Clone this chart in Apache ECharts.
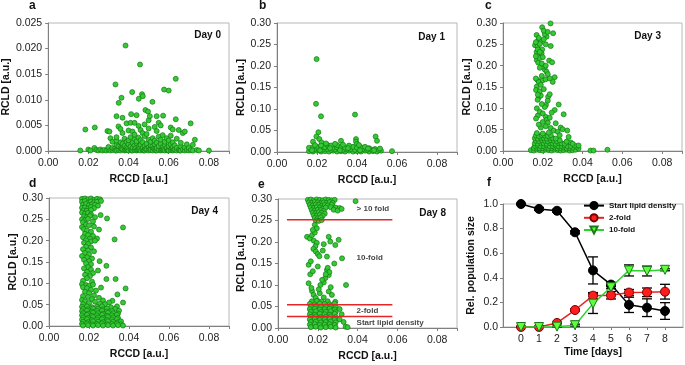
<!DOCTYPE html>
<html>
<head>
<meta charset="utf-8">
<script src="https://cdn.jsdelivr.net/npm/echarts@6/dist/echarts.min.js"></script>
<style>
  html, body { margin: 0; padding: 0; background: #fff; }
  #chart { width: 685px; height: 365px; }
</style>
</head>
<body>
<div id="chart"></div>
<script>
// ---- scatter data: [RCCD, RCLD] ----
const day0Points = [
  [0.016,0.0001],[0.0185,0.0042],[0.020,0.0003],[0.021,0.0001],[0.023,0.0006],[0.0232,0.0046],[0.024,0.0002],[0.025,0.0001],
  [0.026,0.0003],[0.027,0.0001],[0.028,0.0002],[0.029,0.0001],[0.0295,0.0039],[0.030,0.0003],[0.030,0.0008],[0.0305,0.0038],
  [0.031,0.0001],[0.031,0.0025],[0.032,0.0002],[0.032,0.0006],[0.032,0.0018],[0.033,0.0004],[0.0335,0.0001],[0.0335,0.0130],
  [0.034,0.0001],[0.034,0.0012],[0.034,0.0020],[0.034,0.0027],[0.034,0.0068],[0.035,0.0002],[0.035,0.0009],[0.035,0.0048],
  [0.0351,0.0094],[0.036,0.0001],[0.036,0.0006],[0.036,0.0017],[0.036,0.0043],[0.0365,0.0004],[0.0365,0.0104],[0.037,0.0003],
  [0.037,0.0014],[0.037,0.0035],[0.037,0.0065],[0.038,0.0001],[0.038,0.0010],[0.038,0.0024],[0.0385,0.0002],[0.0385,0.0206],
  [0.039,0.0002],[0.039,0.0007],[0.039,0.0018],[0.039,0.0054],[0.0395,0.0004],[0.040,0.0001],[0.040,0.0013],[0.040,0.0021],
  [0.040,0.0040],[0.041,0.0003],[0.041,0.0009],[0.041,0.0027],[0.041,0.0055],[0.0413,0.0072],[0.0415,0.0001],[0.0418,0.0115],
  [0.042,0.0001],[0.042,0.0006],[0.042,0.0016],[0.042,0.0038],[0.043,0.0002],[0.043,0.0011],[0.043,0.0023],[0.043,0.0032],
  [0.043,0.0055],[0.0435,0.0005],[0.044,0.0001],[0.044,0.0015],[0.044,0.0019],[0.044,0.0070],[0.0445,0.0002],[0.045,0.0003],
  [0.045,0.0008],[0.045,0.0026],[0.045,0.0049],[0.0451,0.0102],[0.0455,0.0005],[0.0457,0.0169],[0.046,0.0001],[0.046,0.0012],
  [0.046,0.0021],[0.046,0.0041],[0.0467,0.0111],[0.047,0.0002],[0.047,0.0006],[0.047,0.0017],[0.047,0.0035],[0.0471,0.0107],
  [0.0475,0.0001],[0.048,0.0001],[0.048,0.0010],[0.048,0.0029],[0.048,0.0052],[0.0484,0.0080],[0.0485,0.0004],[0.049,0.0003],
  [0.049,0.0014],[0.049,0.0033],[0.0497,0.0077],[0.050,0.0001],[0.050,0.0007],[0.050,0.0022],[0.050,0.0044],[0.050,0.0060],
  [0.0505,0.0003],[0.051,0.0002],[0.051,0.0011],[0.051,0.0018],[0.0506,0.0068],[0.0519,0.0096],[0.052,0.0001],[0.052,0.0009],
  [0.052,0.0025],[0.0525,0.0005],[0.053,0.0003],[0.053,0.0013],[0.053,0.0020],[0.053,0.0047],[0.0535,0.0001],[0.054,0.0001],
  [0.054,0.0006],[0.054,0.0016],[0.054,0.0039],[0.054,0.0068],[0.055,0.0002],[0.055,0.0010],[0.055,0.0028],[0.055,0.0055],
  [0.056,0.0001],[0.056,0.0014],[0.056,0.0022],[0.056,0.0050],[0.0565,0.0002],[0.057,0.0003],[0.057,0.0008],[0.057,0.0031],
  [0.0572,0.0069],[0.0575,0.0004],[0.0577,0.0120],[0.058,0.0001],[0.058,0.0012],[0.058,0.0018],[0.059,0.0002],[0.059,0.0006],
  [0.059,0.0025],[0.0595,0.0001],[0.060,0.0001],[0.060,0.0010],[0.060,0.0021],[0.060,0.0118],[0.061,0.0002],[0.061,0.0013],
  [0.061,0.0030],[0.061,0.0046],[0.0615,0.0005],[0.062,0.0001],[0.062,0.0008],[0.062,0.0017],[0.062,0.0042],[0.0625,0.0002],
  [0.063,0.0003],[0.063,0.0011],[0.0635,0.0062],[0.0635,0.0141],[0.064,0.0001],[0.064,0.0006],[0.064,0.0024],[0.065,0.0002],
  [0.065,0.0041],[0.0655,0.0001],[0.066,0.0001],[0.066,0.0009],[0.066,0.0016],[0.067,0.0003],[0.067,0.0035],[0.068,0.0001],
  [0.068,0.0007],[0.068,0.0038],[0.069,0.0002],[0.069,0.0013],[0.070,0.0001],[0.070,0.0006],[0.0709,0.0054],[0.071,0.0002],
  [0.072,0.0001],[0.072,0.0012],[0.073,0.0022],[0.074,0.0002],[0.075,0.0001],[0.080,0.0001]
]

const day1Points = [
  [0.0198,0.216],[0.0195,0.112],[0.022,0.083],[0.039,0.087],[0.0207,0.046],[0.0197,0.036],[0.0212,0.030],[0.0223,0.022],
  [0.018,0.024],[0.0493,0.036],[0.050,0.026],[0.0395,0.030],[0.0395,0.024],[0.040,0.019],[0.032,0.026],[0.0575,0.002],
  [0.016,0.002],[0.018,0.001],[0.020,0.003],[0.022,0.001],[0.024,0.002],[0.026,0.001],[0.028,0.003],[0.030,0.001],
  [0.032,0.002],[0.034,0.001],[0.036,0.003],[0.038,0.001],[0.040,0.002],[0.042,0.001],[0.044,0.003],[0.046,0.001],
  [0.048,0.002],[0.050,0.001],[0.052,0.003],
  [0.017,0.006],[0.019,0.007],[0.021,0.005],[0.023,0.006],[0.025,0.007],[0.027,0.005],[0.029,0.006],[0.031,0.007],
  [0.033,0.005],[0.035,0.006],[0.037,0.007],[0.039,0.005],[0.041,0.006],[0.043,0.007],[0.045,0.005],[0.047,0.006],
  [0.049,0.007],[0.051,0.005],
  [0.016,0.010],[0.018,0.011],[0.020,0.012],[0.022,0.010],[0.024,0.011],[0.026,0.012],[0.028,0.010],[0.030,0.011],
  [0.032,0.012],[0.034,0.010],[0.036,0.011],[0.038,0.012],[0.040,0.010],[0.042,0.011],[0.044,0.012],[0.046,0.009],
  [0.019,0.016],[0.022,0.015],[0.025,0.017],[0.027,0.015],[0.030,0.016],[0.033,0.017],[0.036,0.015],[0.041,0.016],
  [0.0245,0.020],[0.029,0.019],
  [0.0175,0.004],[0.0215,0.004],[0.0265,0.009],[0.0315,0.004],[0.0355,0.009],[0.0415,0.004],[0.0455,0.008],[0.0485,0.004],
  [0.0515,0.008]
]

const day3Points = [
  [0.0239,0.299],[0.0197,0.290],[0.0219,0.268],[0.021,0.274],[0.0252,0.276],[0.0169,0.272],[0.0177,0.259],[0.019,0.256],
  [0.0161,0.248],[0.0174,0.245],[0.0185,0.251],[0.0197,0.238],[0.0169,0.232],[0.024,0.246],[0.018,0.225],[0.0194,0.229],
  [0.0232,0.212],[0.0247,0.208],[0.017,0.213],[0.0177,0.207],[0.0185,0.218],[0.021,0.191],[0.0219,0.186],[0.020,0.198],
  [0.0174,0.166],[0.018,0.162],[0.020,0.166],[0.0214,0.168],[0.026,0.173],[0.025,0.162],[0.017,0.151],[0.0166,0.143],
  [0.019,0.155],[0.018,0.126],[0.0174,0.120],[0.0227,0.127],[0.0235,0.133],[0.019,0.130],[0.0216,0.108],[0.021,0.103],
  [0.028,0.109],[0.017,0.100],[0.026,0.096],[0.0305,0.086],[0.0175,0.083],[0.0166,0.076],[0.0215,0.080],[0.022,0.073],
  [0.0225,0.066],[0.019,0.055],[0.024,0.054],[0.029,0.055],[0.030,0.051],[0.0323,0.048],[0.018,0.062],[0.020,0.068],
  [0.0205,0.282],[0.0225,0.279],[0.018,0.265],[0.0205,0.262],[0.0165,0.255],[0.0215,0.250],[0.0175,0.238],[0.0185,0.232],
  [0.0165,0.222],[0.020,0.220],[0.0195,0.205],[0.0215,0.200],[0.0185,0.195],[0.0225,0.180],[0.0195,0.176],[0.0165,0.170],
  [0.0235,0.170],[0.0185,0.140],[0.0205,0.145],[0.0175,0.132],[0.0225,0.118],[0.0195,0.110],[0.0185,0.092],[0.0245,0.090],
  [0.020,0.088],[0.0235,0.078],[0.0265,0.065],[0.0215,0.058],[0.0255,0.048],[0.0275,0.045],
  [0.014,0.002],[0.0155,0.001],[0.017,0.003],[0.0185,0.002],[0.020,0.001],[0.0215,0.003],[0.023,0.002],[0.0245,0.001],
  [0.026,0.003],[0.0275,0.002],[0.029,0.001],[0.0305,0.002],[0.032,0.003],[0.0335,0.001],[0.035,0.002],[0.0365,0.003],
  [0.038,0.006],
  [0.0155,0.007],[0.017,0.008],[0.0185,0.006],[0.020,0.007],[0.0215,0.008],[0.023,0.006],[0.0245,0.007],[0.026,0.008],
  [0.0275,0.006],[0.029,0.007],[0.0305,0.008],[0.032,0.006],[0.0335,0.007],[0.035,0.008],[0.037,0.010],
  [0.016,0.012],[0.0175,0.013],[0.019,0.011],[0.0205,0.012],[0.022,0.013],[0.0235,0.011],[0.025,0.012],[0.0265,0.013],
  [0.028,0.011],[0.0295,0.012],[0.031,0.013],[0.0325,0.011],[0.034,0.012],[0.036,0.013],[0.038,0.013],
  [0.016,0.018],[0.0175,0.017],[0.019,0.019],[0.0205,0.018],[0.022,0.017],[0.0235,0.019],[0.025,0.018],[0.0265,0.017],
  [0.028,0.019],[0.0295,0.018],[0.031,0.017],[0.034,0.020],[0.035,0.017],
  [0.0165,0.024],[0.018,0.023],[0.0195,0.025],[0.021,0.024],[0.0225,0.023],[0.024,0.025],[0.0255,0.024],[0.027,0.023],
  [0.0285,0.025],[0.032,0.022],
  [0.016,0.030],[0.0175,0.029],[0.019,0.031],[0.0205,0.030],[0.022,0.029],[0.0235,0.031],[0.025,0.030],[0.0265,0.029],
  [0.033,0.033],
  [0.0165,0.036],[0.018,0.035],[0.0195,0.037],[0.021,0.036],[0.0225,0.035],[0.024,0.037],[0.0285,0.037],
  [0.017,0.042],[0.020,0.041],[0.023,0.043],
  [0.044,0.001],[0.0455,0.001],[0.0525,0.003]
]

const day4Points = [
  [0.0165,0.298],[0.018,0.299],[0.0195,0.297],[0.021,0.299],[0.0225,0.296],[0.024,0.298],[0.0255,0.297],[0.0165,0.291],
  [0.018,0.293],[0.0195,0.289],[0.021,0.292],[0.0225,0.290],[0.024,0.291],[0.026,0.293],[0.017,0.284],[0.0185,0.286],
  [0.020,0.283],[0.0215,0.285],[0.023,0.284],[0.0245,0.282],[0.0165,0.277],[0.018,0.278],[0.0195,0.275],[0.021,0.279],
  [0.0225,0.276],[0.017,0.271],[0.019,0.270],[0.021,0.272],
  [0.0165,0.266],[0.018,0.263],[0.0195,0.265],[0.021,0.262],[0.0175,0.257],[0.019,0.255],[0.0205,0.258],[0.023,0.255],
  [0.0165,0.250],[0.018,0.248],[0.0195,0.251],[0.022,0.245],[0.017,0.243],[0.0258,0.260],[0.029,0.252],
  [0.0185,0.238],[0.020,0.236],[0.0165,0.232],[0.0225,0.233],[0.025,0.226],[0.0175,0.227],[0.019,0.224],[0.021,0.221],
  [0.018,0.216],[0.0195,0.213],[0.022,0.211],[0.017,0.208],[0.0205,0.205],[0.024,0.205],[0.0185,0.201],[0.021,0.198],
  [0.023,0.200],[0.0175,0.195],[0.0195,0.192],[0.037,0.231],[0.0328,0.203],
  [0.0185,0.186],[0.021,0.184],[0.017,0.180],[0.0195,0.177],[0.0225,0.175],[0.018,0.171],[0.020,0.168],[0.0165,0.164],
  [0.019,0.161],[0.0215,0.158],[0.0175,0.155],[0.020,0.152],[0.0253,0.152],[0.0185,0.147],[0.021,0.145],[0.0287,0.141],
  [0.0195,0.138],[0.0175,0.135],[0.021,0.132],[0.0245,0.130],[0.019,0.127],[0.022,0.124],[0.018,0.120],[0.0205,0.117],
  [0.019,0.112],[0.0287,0.110],[0.0333,0.110],[0.017,0.106],[0.0215,0.104],
  [0.0165,0.098],[0.0185,0.096],[0.020,0.094],[0.022,0.097],[0.017,0.091],[0.019,0.089],[0.026,0.090],[0.0383,0.088],
  [0.021,0.085],[0.0235,0.083],[0.018,0.080],[0.020,0.077],[0.0342,0.074],[0.0225,0.072],[0.017,0.070],[0.0195,0.068],
  [0.025,0.066],[0.0215,0.063],[0.0165,0.061],[0.018,0.058],[0.0317,0.059],[0.023,0.057],[0.027,0.060],[0.030,0.055],
  [0.037,0.055],[0.020,0.054],[0.0255,0.052],[0.017,0.051],[0.028,0.051],
  [0.0165,0.045],[0.019,0.046],[0.0215,0.044],[0.024,0.045],[0.0265,0.046],[0.031,0.044],[0.034,0.046],
  [0.017,0.040],[0.0195,0.039],[0.022,0.041],[0.0245,0.040],[0.027,0.039],[0.029,0.041],[0.033,0.040],
  [0.0165,0.035],[0.019,0.036],[0.0215,0.034],[0.024,0.035],[0.0265,0.036],[0.029,0.034],[0.0315,0.035],[0.035,0.036],
  [0.017,0.030],[0.0195,0.029],[0.022,0.031],[0.0245,0.030],[0.027,0.029],[0.0295,0.031],[0.032,0.030],[0.0345,0.029],
  [0.0165,0.025],[0.019,0.026],[0.0215,0.024],[0.024,0.025],[0.0265,0.026],[0.029,0.024],[0.0315,0.025],[0.034,0.026],
  [0.017,0.020],[0.0195,0.019],[0.022,0.021],[0.0245,0.020],[0.027,0.019],[0.0295,0.021],[0.032,0.020],[0.0345,0.019],
  [0.0165,0.015],[0.019,0.016],[0.0215,0.014],[0.024,0.015],[0.0265,0.016],[0.029,0.014],[0.0315,0.015],[0.034,0.016],
  [0.017,0.010],[0.0195,0.009],[0.022,0.011],[0.0245,0.010],[0.027,0.009],[0.0295,0.011],[0.032,0.010],[0.0345,0.009],
  [0.036,0.011],
  [0.0165,0.005],[0.019,0.006],[0.0215,0.004],[0.024,0.005],[0.0265,0.006],[0.029,0.004],[0.0315,0.005],[0.034,0.006],
  [0.036,0.004],
  [0.017,0.001],[0.0195,0.002],[0.022,0.001],[0.0245,0.002],[0.027,0.001],[0.0295,0.002],[0.032,0.001],[0.0345,0.002],
  [0.037,0.001]
]

const day8Points = [
  [0.015,0.298],[0.0165,0.299],[0.018,0.297],[0.0195,0.299],[0.021,0.298],[0.0225,0.297],[0.024,0.299],[0.0255,0.298],
  [0.027,0.297],[0.0285,0.298],
  [0.0155,0.292],[0.017,0.291],[0.0185,0.293],[0.020,0.292],[0.0215,0.290],[0.023,0.292],[0.0245,0.291],[0.026,0.293],
  [0.0275,0.291],
  [0.016,0.286],[0.0175,0.285],[0.019,0.287],[0.0205,0.286],[0.022,0.284],[0.0235,0.286],[0.025,0.285],[0.027,0.287],
  [0.0165,0.280],[0.018,0.279],[0.0195,0.281],[0.021,0.280],[0.0225,0.278],[0.024,0.280],[0.0265,0.281],[0.029,0.280],
  [0.031,0.279],
  [0.017,0.274],[0.0185,0.273],[0.020,0.275],[0.0215,0.274],[0.023,0.272],[0.028,0.275],[0.030,0.273],
  [0.0175,0.268],[0.019,0.267],[0.0205,0.269],[0.022,0.268],[0.0235,0.266],
  [0.018,0.262],[0.0195,0.261],[0.021,0.263],[0.0225,0.261],
  [0.0185,0.256],[0.020,0.255],[0.0215,0.257],
  [0.019,0.250],[0.0205,0.249],[0.022,0.251],
  [0.039,0.295],[0.032,0.277],
  [0.0146,0.212],[0.0160,0.208],[0.0171,0.216],[0.0185,0.222],[0.0180,0.203],[0.0195,0.198],[0.0188,0.190],[0.0178,0.184],
  [0.0190,0.178],[0.0200,0.172],[0.0208,0.167],[0.0255,0.212],[0.0263,0.201],[0.0288,0.193],[0.0322,0.162],[0.0283,0.150],
  [0.0246,0.166],[0.0154,0.147],[0.0165,0.155],[0.0200,0.143],[0.0162,0.125],[0.0154,0.104],[0.0246,0.135],[0.0255,0.123],
  [0.0238,0.116],[0.0230,0.106],[0.0213,0.100],[0.0342,0.100],[0.0171,0.086],[0.0179,0.077],[0.0210,0.081],[0.0255,0.085],
  [0.0271,0.077],[0.0288,0.061],[0.0240,0.057],[0.0250,0.140],[0.0258,0.130],[0.0240,0.125],[0.0222,0.112],[0.0175,0.132],
  [0.0168,0.093],[0.0190,0.070],[0.0200,0.063],[0.0230,0.071],[0.0265,0.095],[0.0205,0.090],[0.0185,0.240],[0.0195,0.232],
  [0.0175,0.228],[0.0305,0.205],[0.0225,0.180],[0.0230,0.195],
  [0.017,0.062],[0.0195,0.063],[0.022,0.061],[0.025,0.062],
  [0.016,0.056],[0.0185,0.055],[0.021,0.057],[0.0235,0.056],[0.026,0.055],[0.0285,0.057],
  [0.0165,0.050],[0.019,0.051],[0.0215,0.049],[0.024,0.050],[0.0265,0.051],[0.029,0.049],
  [0.016,0.044],[0.0185,0.045],[0.021,0.043],[0.0235,0.044],[0.026,0.045],[0.0285,0.043],[0.031,0.044],
  [0.0165,0.038],[0.019,0.039],[0.0215,0.037],[0.024,0.038],[0.0265,0.039],[0.029,0.037],
  [0.016,0.032],[0.0185,0.031],[0.021,0.033],[0.0235,0.032],[0.026,0.031],[0.0285,0.033],[0.032,0.032],
  [0.0165,0.026],[0.019,0.027],[0.0215,0.025],[0.024,0.026],[0.0265,0.027],[0.029,0.025],
  [0.016,0.020],[0.0185,0.021],[0.021,0.019],[0.0235,0.020],[0.026,0.021],[0.0285,0.019],[0.031,0.020],
  [0.0165,0.014],[0.019,0.015],[0.0215,0.013],[0.024,0.014],[0.0265,0.015],[0.029,0.013],[0.033,0.014],
  [0.016,0.008],[0.0185,0.009],[0.021,0.007],[0.0235,0.008],[0.026,0.009],[0.0285,0.007],
  [0.0165,0.002],[0.019,0.003],[0.0215,0.001],[0.024,0.002],[0.0265,0.003],[0.029,0.001],[0.034,0.003],[0.035,0.002]
]

// ---- day 8 thresholds ----
const foldLevels = [0.027, 0.054, 0.252]
const foldLineX = [0.0045, 0.0575]
const foldLabels = ['> 10 fold', '10-fold', '2-fold', 'Start lipid density']
const foldLabelY = [0.277, 0.163, 0.039, 0.013]
const foldLabelX = 0.0395

// ---- panel f: population sizes ----
const days = [0, 1, 2, 3, 4, 5, 6, 7, 8]
const startMean = [1.0, 0.96, 0.945, 0.77, 0.46, 0.345, 0.18, 0.157, 0.13]
const startErr = [0.005, 0.012, 0.012, 0.012, 0.11, 0.018, 0.062, 0.072, 0.068]
const twoMean = [0, 0, 0.033, 0.138, 0.255, 0.258, 0.28, 0.282, 0.287]
const twoErr = [0, 0, 0.005, 0.008, 0.025, 0.03, 0.025, 0.035, 0.06]
const tenMean = [0, 0, 0.003, 0.015, 0.19, 0.323, 0.46, 0.455, 0.465]
const tenErr = [0, 0, 0.003, 0.008, 0.08, 0.012, 0.045, 0.04, 0.008]

const font = 'Liberation Sans, Arial, sans-serif'

const scatterPanels = [
  { grid: { left: 48, top: 23, width: 181, height: 128 }, data: day0Points, yMax: 0.025, yStep: 0.005, dec: 3, yGap: 35, day: 'Day 0', dayPos: { right: 464, top: 30 } },
  { grid: { left: 277, top: 23, width: 180, height: 129 }, data: day1Points, yMax: 0.3, yStep: 0.05, dec: 2, yGap: 30, day: 'Day 1', dayPos: { right: 240, top: 32 } },
  { grid: { left: 503, top: 23, width: 180, height: 128 }, data: day3Points, yMax: 0.3, yStep: 0.05, dec: 2, yGap: 29, day: 'Day 3', dayPos: { right: 24, top: 31 } },
  { grid: { left: 49, top: 198, width: 180, height: 128 }, data: day4Points, yMax: 0.3, yStep: 0.05, dec: 2, yGap: 30, day: 'Day 4', dayPos: { right: 467, top: 206 } },
  { grid: { left: 278, top: 199, width: 179, height: 129 }, data: day8Points, yMax: 0.3, yStep: 0.05, dec: 2, yGap: 31, day: 'Day 8', dayPos: { right: 239, top: 208 } }
]

const letters = [
  { text: 'a', left: 29, top: 0 }, { text: 'b', left: 259, top: 0 }, { text: 'c', left: 485, top: 0 },
  { text: 'd', left: 29, top: 178 }, { text: 'e', left: 258, top: 179 }, { text: 'f', left: 487, top: 177 }
]

const axisLineStyle = { color: '#808080', width: 1 }
const labelStyle = { fontFamily: font, fontSize: 10.5, color: '#222' }
const nameStyle = { fontFamily: font, fontSize: 10.5, fontWeight: 'bold', color: '#111' }

const grids = []
const xAxes = []
const yAxes = []
const series = []
const titles = []

letters.forEach(l => titles.push({
  text: l.text, left: l.left, top: l.top, padding: 0,
  textStyle: { fontFamily: font, fontSize: 12, fontWeight: 'bold', color: '#111' }
}))

scatterPanels.forEach((p, i) => {
  grids.push(Object.assign({ show: true, borderColor: '#b8b8b8', borderWidth: 1, backgroundColor: 'transparent' }, p.grid))
  xAxes.push({
    type: 'value', gridIndex: i, min: 0, max: 0.09, interval: 0.02,
    name: 'RCCD [a.u.]', nameLocation: 'middle', nameGap: 23, nameTextStyle: nameStyle,
    axisLine: { show: true, onZero: false, lineStyle: axisLineStyle },
    axisTick: { show: true, length: 3, lineStyle: axisLineStyle },
    axisLabel: Object.assign({ margin: 7, formatter: v => v > 0.085 ? '' : v.toFixed(2) }, labelStyle),
    splitLine: { show: false }
  })
  yAxes.push({
    type: 'value', gridIndex: i, min: 0, max: p.yMax, interval: p.yStep,
    name: 'RCLD [a.u.]', nameLocation: 'middle', nameGap: p.yGap, nameTextStyle: nameStyle,
    axisLine: { show: true, onZero: false, lineStyle: axisLineStyle },
    axisTick: { show: true, length: 3, lineStyle: axisLineStyle },
    axisLabel: Object.assign({ margin: 6, formatter: v => v.toFixed(p.dec) }, labelStyle),
    splitLine: { show: false }
  })
  series.push({
    type: 'scatter', xAxisIndex: i, yAxisIndex: i, data: p.data,
    symbolSize: 5,
    itemStyle: { color: '#35c935', borderColor: '#137a13', borderWidth: 0.7, opacity: 1 }
  })
  titles.push(Object.assign({
    text: p.day, padding: 0,
    textStyle: { fontFamily: font, fontSize: 10, fontWeight: 'bold', color: '#111' }
  }, p.dayPos))
})

// red threshold lines in panel e
foldLevels.forEach(y => series.push({
  type: 'line', xAxisIndex: 4, yAxisIndex: 4, symbol: 'none', z: 5, silent: true,
  data: [[foldLineX[0], y], [foldLineX[1], y]],
  lineStyle: { color: '#e32626', width: 1.5 }
}))
series.push({
  type: 'scatter', xAxisIndex: 4, yAxisIndex: 4, symbolSize: 0, z: 6, silent: true,
  data: foldLabels.map((t, k) => ({ name: t, value: [foldLabelX, foldLabelY[k]] })),
  label: {
    show: true, position: 'right', distance: 0, formatter: q => q.name,
    fontFamily: font, fontSize: 8, fontWeight: 'bold', color: '#111'
  }
})

// panel f
grids.push({ left: 503, top: 204, width: 180, height: 123, show: true, borderColor: '#b8b8b8', borderWidth: 1 })
xAxes.push({
  type: 'value', gridIndex: 5, min: -1, max: 9, interval: 1,
  name: 'Time [days]', nameLocation: 'middle', nameGap: 20, nameTextStyle: nameStyle,
  axisLine: { show: true, onZero: false, lineStyle: axisLineStyle },
  axisTick: { show: true, length: 3, lineStyle: axisLineStyle },
  axisLabel: Object.assign({ margin: 7, showMinLabel: false, showMaxLabel: false,
    formatter: v => (v < 0 || v > 8) ? '' : String(v) }, labelStyle),
  splitLine: { show: false }
})
yAxes.push({
  type: 'value', gridIndex: 5, min: 0, max: 1, interval: 0.2,
  name: 'Rel. population size', nameLocation: 'middle', nameGap: 26, nameTextStyle: nameStyle,
  axisLine: { show: true, onZero: false, lineStyle: axisLineStyle },
  axisTick: { show: true, length: 3, lineStyle: axisLineStyle },
  axisLabel: Object.assign({ margin: 5, formatter: v => v.toFixed(1) }, labelStyle),
  splitLine: { show: false }
})

function errorBars (mean, err) {
  return {
    type: 'custom', xAxisIndex: 5, yAxisIndex: 5, z: 2, silent: true,
    encode: { x: 0, y: [1, 2] },
    data: days.map((d, k) => [d, mean[k] - err[k], mean[k] + err[k]]),
    renderItem: (params, api) => {
      const top = api.coord([api.value(0), api.value(2)])
      const bot = api.coord([api.value(0), api.value(1)])
      const w = 5
      const style = { stroke: '#000', lineWidth: 1.3 }
      return {
        type: 'group',
        children: [
          { type: 'line', shape: { x1: top[0], y1: top[1], x2: bot[0], y2: bot[1] }, style },
          { type: 'line', shape: { x1: top[0] - w, y1: top[1], x2: top[0] + w, y2: top[1] }, style },
          { type: 'line', shape: { x1: bot[0] - w, y1: bot[1], x2: bot[0] + w, y2: bot[1] }, style }
        ]
      }
    }
  }
}

series.push(errorBars(startMean, startErr))
series.push(errorBars(twoMean, twoErr))
series.push(errorBars(tenMean, tenErr))

series.push({
  name: 'Start lipid density', type: 'line', xAxisIndex: 5, yAxisIndex: 5, z: 3,
  data: days.map((d, k) => [d, startMean[k]]),
  symbol: 'circle', symbolSize: 9,
  lineStyle: { color: '#000', width: 1.5 },
  itemStyle: { color: '#000', borderColor: '#000', borderWidth: 1 }
})
series.push({
  name: '2-fold', type: 'line', xAxisIndex: 5, yAxisIndex: 5, z: 4,
  data: days.map((d, k) => [d, twoMean[k]]),
  symbol: 'circle', symbolSize: 9,
  lineStyle: { color: '#e82020', width: 1.5 },
  itemStyle: { color: '#ff1c1c', borderColor: '#7a0000', borderWidth: 1 }
})
series.push({
  name: '10-fold', type: 'line', xAxisIndex: 5, yAxisIndex: 5, z: 5,
  data: days.map((d, k) => [d, tenMean[k]]),
  symbol: 'triangle', symbolRotate: 180, symbolSize: 9,
  lineStyle: { color: '#2ed12e', width: 1.5 },
  itemStyle: { color: '#5cff3a', borderColor: '#1a7a1a', borderWidth: 1 }
})

const chart = echarts.init(document.getElementById('chart'), null, { renderer: 'canvas' })
chart.setOption({
  animation: false,
  backgroundColor: '#fff',
  textStyle: { fontFamily: font },
  title: titles,
  legend: {
    orient: 'vertical', left: 583, top: 201, padding: 0,
    itemWidth: 20, itemHeight: 9, itemGap: 3,
    data: ['Start lipid density', '2-fold', '10-fold'],
    textStyle: { fontFamily: font, fontSize: 8, fontWeight: 'bold', color: '#111' }
  },
  grid: grids,
  xAxis: xAxes,
  yAxis: yAxes,
  series: series
})
</script>
</body>
</html>
